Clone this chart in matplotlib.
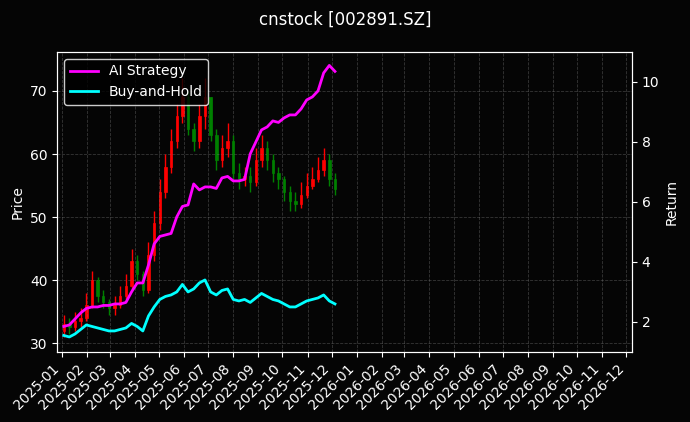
import pandas as pd
import matplotlib.pyplot as plt
import matplotlib.dates as mdates

plt.style.use('dark_background')

# Weekly data
dates = pd.date_range('2025-01-03', periods=49, freq='7D')
opens = [32.0, 33.0, 32.5, 33.5, 34.0, 36.0, 40.0, 37.5, 36.5, 35.5, 36.0, 37.5, 39.0, 43.0, 41.0, 38.5, 44.0,
         49.0, 54.0, 58.0, 62.0, 66.0, 69.0, 64.0, 62.0, 66.0, 69.0, 63.0, 59.0, 61.0, 62.0, 57.0, 56.0, 56.5,
         55.5, 59.0, 61.0, 59.0, 57.0, 56.0, 54.0, 52.5, 52.0, 53.5, 55.0, 56.0, 57.5, 59.0, 56.0]
closes = [33.0, 32.5, 33.5, 34.0, 36.0, 40.0, 37.5, 36.5, 35.5, 36.0, 37.5, 39.0, 43.0, 41.0, 38.5, 44.0, 49.0,
          54.0, 58.0, 62.0, 66.0, 69.0, 64.0, 62.0, 66.0, 69.0, 63.0, 59.0, 61.0, 62.0, 57.0, 56.0, 56.5, 55.5,
          59.0, 61.0, 59.0, 57.0, 56.0, 54.0, 52.5, 52.0, 53.5, 55.0, 56.0, 57.5, 59.0, 56.0, 54.5]
highs = [34.5, 34.0, 35.0, 35.5, 38.0, 41.5, 40.5, 38.5, 37.0, 37.5, 39.0, 41.0, 45.0, 44.0, 41.5, 46.0, 51.0,
         56.0, 60.0, 64.0, 68.0, 72.0, 70.0, 65.0, 68.0, 72.0, 69.0, 64.0, 63.0, 65.0, 63.0, 58.5, 58.0, 58.0,
         61.0, 63.0, 62.0, 60.0, 58.0, 56.5, 55.0, 54.0, 55.5, 57.0, 58.0, 59.5, 61.0, 60.0, 57.0]
lows = [31.0, 31.5, 32.0, 32.5, 33.5, 35.5, 36.5, 35.5, 34.5, 34.5, 35.5, 37.0, 38.5, 40.0, 37.5, 38.0, 43.0,
        48.0, 53.0, 57.0, 61.0, 65.0, 63.0, 60.5, 61.0, 64.0, 62.0, 57.5, 58.0, 59.5, 56.0, 54.5, 55.0, 54.0,
        55.0, 58.0, 57.5, 55.5, 54.5, 52.5, 51.0, 51.0, 51.5, 53.0, 54.5, 55.5, 56.5, 55.0, 53.5]
ai_strategy = [1.85, 1.9, 2.1, 2.3, 2.45, 2.5, 2.5, 2.55, 2.55, 2.6, 2.6, 2.65, 3.0, 3.3, 3.3, 3.9, 4.6, 4.85,
               4.9, 4.95, 5.5, 5.85, 5.9, 6.6, 6.4, 6.5, 6.5, 6.45, 6.8, 6.85, 6.7, 6.7, 6.75, 7.6, 8.0, 8.4,
               8.5, 8.7, 8.65, 8.8, 8.9, 8.9, 9.1, 9.4, 9.5, 9.7, 10.3, 10.55, 10.35]
buy_hold = [1.55, 1.5, 1.6, 1.75, 1.9, 1.85, 1.8, 1.75, 1.7, 1.7, 1.75, 1.8, 1.95, 1.85, 1.7, 2.2, 2.5, 2.75,
            2.85, 2.9, 3.0, 3.25, 3.0, 3.1, 3.3, 3.4, 3.0, 2.9, 3.05, 3.1, 2.75, 2.7, 2.75, 2.65, 2.8, 2.95,
            2.85, 2.75, 2.7, 2.6, 2.5, 2.5, 2.6, 2.7, 2.75, 2.8, 2.9, 2.7, 2.6]

fig = plt.figure(figsize=(6.9, 4.22), dpi=100)
fig.patch.set_facecolor('#050505')
ax = fig.add_axes([0.083, 0.166, 0.833, 0.711])
ax.set_facecolor('#050505')

# Candles: red up, green down
for d, o, c, h, l in zip(dates, opens, closes, highs, lows):
    col = 'red' if c >= o else 'green'
    ax.vlines(d, l, h, color=col, linewidth=1)
    ax.bar(d, abs(c - o), bottom=min(o, c), width=3, color=col, edgecolor=col, linewidth=0.5)

ax.set_ylabel('Price')
ax.set_ylim(28.6, 76.2)
ax.set_xlim(pd.Timestamp('2024-12-26'), pd.Timestamp('2026-12-08'))
ax.xaxis.set_major_locator(mdates.MonthLocator())
ax.xaxis.set_major_formatter(mdates.DateFormatter('%Y-%m'))
plt.setp(ax.get_xticklabels(), rotation=45, ha='right')
ax.grid(True, linestyle='--', color='gray', alpha=0.4, linewidth=0.6)

ax2 = ax.twinx()
ax2.plot(dates, ai_strategy, color='magenta', linewidth=2, label='AI Strategy')
ax2.plot(dates, buy_hold, color='cyan', linewidth=2, label='Buy-and-Hold')
ax2.set_ylabel('Return')
ax2.set_ylim(1.0, 11.0)
ax2.set_yticks([2, 4, 6, 8, 10])
ax2.legend(loc='upper left', facecolor='black', edgecolor='white')

fig.suptitle('cnstock [002891.SZ]', fontsize=12, y=0.975)

plt.savefig('out.png')
